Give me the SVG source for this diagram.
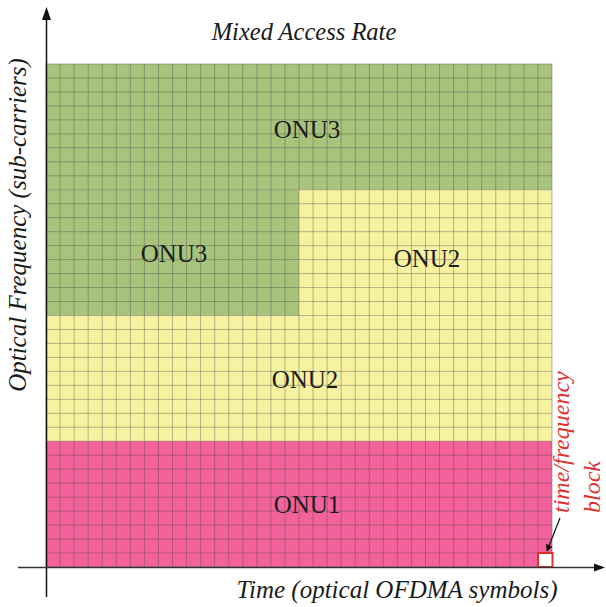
<svg xmlns="http://www.w3.org/2000/svg" width="606" height="607" viewBox="0 0 606 607">
<style>
.it{font-family:"Liberation Serif",serif;font-style:italic;font-size:25px;fill:#1a1a1a}
.lb{font-family:"Liberation Serif",serif;font-size:25px;fill:#1a1a1a;text-anchor:middle}
.red{font-family:"Liberation Serif",serif;font-style:italic;font-size:24px;fill:#e0302e}
.grid{fill:none;stroke:#4a4a4a;stroke-opacity:0.38;stroke-width:1}
</style>
<defs>
<marker id="ah" viewBox="0 0 10 10" refX="9" refY="5" markerWidth="7" markerHeight="7" orient="auto" markerUnits="userSpaceOnUse">
<path d="M0 0L10 5L0 10z" fill="#111"/>
</marker>
</defs>
<rect width="606" height="607" fill="#fff"/>
<g id="onu3-top"><rect x="46" y="64" width="506" height="125.75" fill="#a8c47c"/><text class="lb" x="307" y="138">ONU3</text></g>
<g id="onu3-left"><rect x="46" y="189.75" width="253" height="125.75" fill="#a8c47c"/><text class="lb" x="174" y="262">ONU3</text></g>
<g id="onu2-right"><rect x="299" y="189.75" width="253" height="125.75" fill="#f6f2a0"/><text class="lb" x="427" y="267">ONU2</text></g>
<g id="onu2-mid"><rect x="46" y="315.5" width="506" height="125.75" fill="#f6f2a0"/><text class="lb" x="305" y="388">ONU2</text></g>
<g id="onu1"><rect x="46" y="441.25" width="506" height="125.75" fill="#f4629c"/><text class="lb" x="307" y="513">ONU1</text></g>
<path class="grid" d="M60.06 64V567M74.11 64V567M88.17 64V567M102.22 64V567M116.28 64V567M130.33 64V567M144.39 64V567M158.44 64V567M172.5 64V567M186.56 64V567M200.61 64V567M214.67 64V567M228.72 64V567M242.78 64V567M256.83 64V567M270.89 64V567M284.94 64V567M299 64V567M313.06 64V567M327.11 64V567M341.17 64V567M355.22 64V567M369.28 64V567M383.33 64V567M397.39 64V567M411.44 64V567M425.5 64V567M439.56 64V567M453.61 64V567M467.67 64V567M481.72 64V567M495.78 64V567M509.83 64V567M523.89 64V567M537.94 64V567M46 77.97H552M46 91.94H552M46 105.92H552M46 119.89H552M46 133.86H552M46 147.83H552M46 161.81H552M46 175.78H552M46 189.75H552M46 203.72H552M46 217.69H552M46 231.67H552M46 245.64H552M46 259.61H552M46 273.58H552M46 287.56H552M46 301.53H552M46 315.5H552M46 329.47H552M46 343.44H552M46 357.42H552M46 371.39H552M46 385.36H552M46 399.33H552M46 413.31H552M46 427.28H552M46 441.25H552M46 455.22H552M46 469.19H552M46 483.17H552M46 497.14H552M46 511.11H552M46 525.08H552M46 539.06H552M46 553.03H552"/>
<rect x="46" y="64" width="506" height="503" fill="none" stroke="#666" stroke-opacity="0.5" stroke-width="1"/>
<g id="block"><rect x="538" y="553" width="14.5" height="14" fill="#fff" stroke="#e0302e" stroke-width="2"/></g>
<g id="axes">
<path d="M46.5 597V18" stroke="#111" stroke-width="1.5"/>
<path d="M46.5 7L42 20H51z" fill="#111"/>
<path d="M18 567.5H596" stroke="#333" stroke-width="1.5"/>
<path d="M605 567.5L594 563.5V571.5z" fill="#111"/>
</g>
<g id="connectors">
<path d="M560 518L547 551" stroke="#111" stroke-width="1.2" fill="none" marker-end="url(#ah)"/>
</g>
<text class="it" x="304" y="40" text-anchor="middle" style="font-size:24.5px">Mixed Access Rate</text>
<text class="it" x="397" y="598" text-anchor="middle">Time (optical OFDMA symbols)</text>
<text class="it" transform="translate(26,225) rotate(-90)" text-anchor="middle">Optical Frequency (sub-carriers)</text>
<text class="red" transform="translate(569,513) rotate(-90)">time/frequency</text>
<text class="red" transform="translate(600,513) rotate(-90)">block</text>
</svg>
